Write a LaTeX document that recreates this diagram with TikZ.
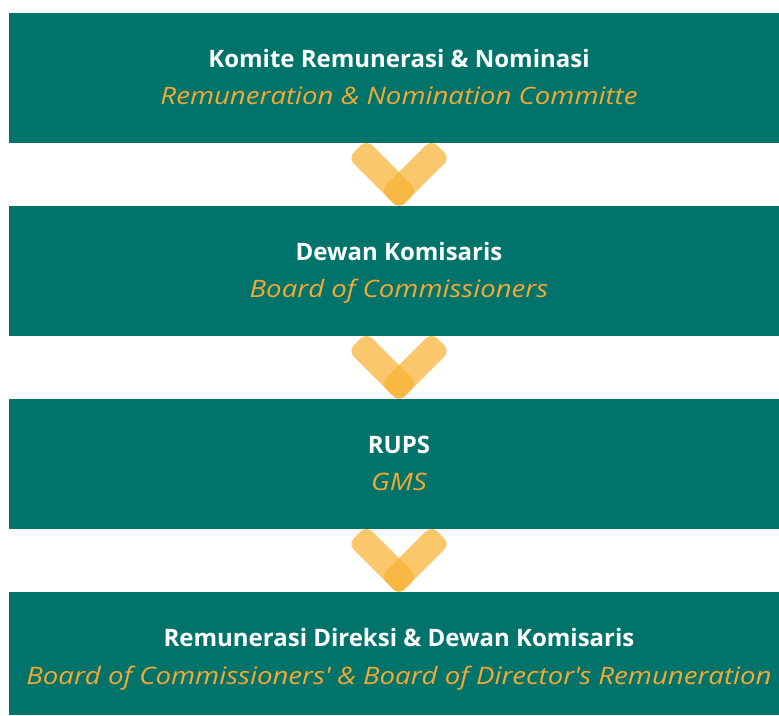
\documentclass[tikz,border=0pt]{standalone}
\usepackage{fontspec}
\setmainfont{Open Sans}[ItalicFeatures={FakeStretch=1.15}]
\definecolor{teal1}{RGB}{0,116,107}
\definecolor{orng}{RGB}{246,168,51}
\definecolor{chev}{RGB}{249,178,51}
\begin{document}
\begin{tikzpicture}[x=1pt,y=1pt,
  panel/.style={fill=teal1,draw=none},
  ttl/.style={text=white,font=\fontsize{24}{28}\selectfont\bfseries,inner sep=0pt,anchor=base},
  sub/.style={text=orng,font=\fontsize{24}{28}\selectfont\itshape,inner sep=0pt,anchor=base},
  bar/.style={fill=chev,fill opacity=0.72,rounded corners=8pt}]
\useasboundingbox (0,0) rectangle (779,715);
% boxes (y up: Y = 715 - y)
\fill[panel] (9,702) rectangle (779,572);
\fill[panel] (9,509) rectangle (779,379);
\fill[panel] (9,316) rectangle (779,186);
\fill[panel] (9,123) rectangle (779,0);
% texts
\node[ttl] (t1) at (399,647) {Komite Remunerasi \& Nominasi};
\node[sub] (s1) at (399,610) {Remuneration \& Nomination Committe};
\node[ttl] (t2) at (399,454) {Dewan Komisaris};
\node[sub] (s2) at (399,417) {Board of Commissioners};
\node[ttl] (t3) at (399,261) {RUPS};
\node[sub] (s3) at (399,224) {GMS};
\node[ttl] (t4) at (399,68) {Remunerasi Direksi \& Dewan Komisaris};
\node[sub] (s4) at (399,31) {Board of Commissioners\textquotesingle{} \& Board of Director\textquotesingle s Remuneration};
% chevrons
\foreach \cy in {524.4,331.4,138.4}{
  \begin{scope}[shift={(399,\cy)}]
    \fill[bar,rotate=45] (-13,-13) rectangle (59,13);
    \fill[bar,rotate=135] (-13,-13) rectangle (59,13);
  \end{scope}
}
\end{tikzpicture}
\end{document}
